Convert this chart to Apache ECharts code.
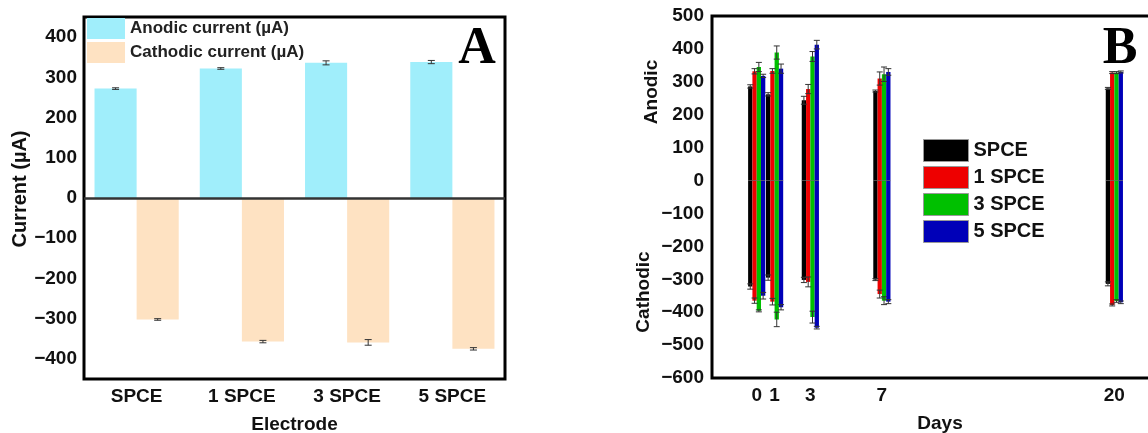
<!DOCTYPE html>
<html>
<head>
<meta charset="utf-8">
<script src="https://cdn.jsdelivr.net/npm/echarts@6/dist/echarts.min.js"></script>
<style>
html, body { margin: 0; padding: 0; background: #fff; overflow: hidden; }
#chart { width: 1180px; height: 433px; }
</style>
</head>
<body>
<div id="chart"></div>
<script>
// panel A
var electrodes = ['SPCE', '1 SPCE', '3 SPCE', '5 SPCE'];
var anodicA = [272, 322, 336, 338];
var anodicErrA = [2, 2, 5, 4];
var cathodicA = [-302, -357, -359, -375];
var cathodicErrA = [2, 3, 7, 3];

// panel B
var days = [0, 1, 3, 7, 20];
var anodicSPCE = [286, 262, 244, 272, 280];
var anodic1SPCE = [332, 333, 278, 310, 328];
var anodic3SPCE = [345, 389, 377, 323, 328];
var anodic5SPCE = [318, 340, 413, 330, 330];
var anodicErrSPCE = [5, 5, 12, 3, 3];
var anodicErr1SPCE = [8, 7, 14, 20, 3];
var anodicErr3SPCE = [14, 20, 15, 22, 3];
var anodicErr5SPCE = [5, 14, 13, 10, 3];
var cathodicSPCE = [-322, -295, -302, -301, -314];
var cathodic1SPCE = [-365, -368, -308, -345, -378];
var cathodic3SPCE = [-396, -422, -415, -365, -366];
var cathodic5SPCE = [-350, -385, -447, -368, -370];
var cathodicErrSPCE = [8, 8, 8, 3, 6];
var cathodicErr1SPCE = [8, 10, 15, 12, 3];
var cathodicErr3SPCE = [3, 22, 18, 12, 4];
var cathodicErr5SPCE = [10, 8, 4, 6, 4];

var colorsB = ['#000000', '#ee0000', '#00c000', '#0000b8'];
var anodicB = [anodicSPCE, anodic1SPCE, anodic3SPCE, anodic5SPCE];
var anodicErrB = [anodicErrSPCE, anodicErr1SPCE, anodicErr3SPCE, anodicErr5SPCE];
var cathodicB = [cathodicSPCE, cathodic1SPCE, cathodic3SPCE, cathodic5SPCE];
var cathodicErrB = [cathodicErrSPCE, cathodicErr1SPCE, cathodicErr3SPCE, cathodicErr5SPCE];

var FONT = 'Liberation Sans, Arial, sans-serif';
var barW = 4.3;

function minus(v) { return String(v).replace('-', '\u2212'); }

function errShape(x, yt, yb, w) {
  var st = { stroke: '#333', lineWidth: 1 };
  return [
    { type: 'line', shape: { x1: x, y1: yt, x2: x, y2: yb }, style: st },
    { type: 'line', shape: { x1: x - w, y1: yt, x2: x + w, y2: yt }, style: st },
    { type: 'line', shape: { x1: x - w, y1: yb, x2: x + w, y2: yb }, style: st }
  ];
}

// error bars for panel A: [catIndex, value, err, side]
function renderErrA(params, api) {
  var i = api.value(0), v = api.value(1), e = api.value(2), side = api.value(3);
  var band = api.size([1, 0])[0];
  var x = api.coord([i, v])[0] + side * band * 0.2;
  var yt = api.coord([i, v + e])[1];
  var yb = api.coord([i, v - e])[1];
  return { type: 'group', children: errShape(x, yt, yb, 3.5) };
}

// bars for panel B: [day, anodic, cathodic, k]
function renderBarB(params, api) {
  var d = api.value(0), up = api.value(1), dn = api.value(2), k = api.value(3);
  var base = api.coord([d, 0]);
  var x = base[0] + (k - 1.5) * barW - barW / 2;
  var yu = api.coord([d, up])[1];
  var yd = api.coord([d, dn])[1];
  var c = api.visual('color');
  return {
    type: 'group',
    children: [
      { type: 'rect', shape: { x: x, y: yu, width: barW, height: base[1] - yu }, style: { fill: c } },
      { type: 'rect', shape: { x: x, y: base[1], width: barW, height: yd - base[1] }, style: { fill: c } },
      { type: 'line', shape: { x1: x, y1: base[1], x2: x + barW, y2: base[1] }, style: { stroke: '#555', lineWidth: 0.6 } }
    ]
  };
}

// error bars for panel B: [day, value, err, k]
function renderErrB(params, api) {
  var d = api.value(0), v = api.value(1), e = api.value(2), k = api.value(3);
  var x = api.coord([d, 0])[0] + (k - 1.5) * barW;
  var yt = api.coord([d, v + e])[1];
  var yb = api.coord([d, v - e])[1];
  return { type: 'group', children: errShape(x, yt, yb, 3) };
}

var errDataA = [];
anodicA.forEach(function (v, i) { errDataA.push([i, v, anodicErrA[i], -1]); });
cathodicA.forEach(function (v, i) { errDataA.push([i, v, cathodicErrA[i], 1]); });

var errDataB = [];
var seriesB = electrodes.map(function (name, k) {
  var data = days.map(function (d, j) {
    errDataB.push([d, anodicB[k][j], anodicErrB[k][j], k]);
    errDataB.push([d, cathodicB[k][j], cathodicErrB[k][j], k]);
    return [d, anodicB[k][j], cathodicB[k][j], k];
  });
  return {
    name: name,
    type: 'custom',
    xAxisIndex: 1,
    yAxisIndex: 1,
    itemStyle: { color: colorsB[k] },
    renderItem: renderBarB,
    encode: { x: 0, y: [1, 2] },
    data: data,
    z: 2
  };
});

var tickStyle = { fontFamily: FONT, fontWeight: 'bold', fontSize: 19, color: '#111' };
var nameStyle = { fontFamily: FONT, fontWeight: 'bold', fontSize: 19, color: '#111' };

var chart = echarts.init(document.getElementById('chart'), null, { renderer: 'canvas' });

var option = {
  animation: false,
  backgroundColor: '#fff',
  grid: [
    { left: 84, top: 17, width: 421, height: 362, show: true, borderColor: '#000', borderWidth: 3,
      containLabel: false, outerBoundsMode: 'none' },
    { left: 712, top: 16, width: 456, height: 362, show: true, borderColor: '#000', borderWidth: 3,
      containLabel: false, outerBoundsMode: 'none' }
  ],
  legend: [
    {
      data: ['Anodic current (\u00b5A)', 'Cathodic current (\u00b5A)'],
      orient: 'vertical', left: 87, top: 18, padding: 0,
      itemWidth: 38, itemHeight: 21, itemGap: 3, icon: 'rect',
      textStyle: { fontFamily: FONT, fontWeight: 'bold', fontSize: 17, color: '#222' }
    },
    {
      data: electrodes,
      orient: 'vertical', left: 923, top: 139, padding: 0,
      itemWidth: 45, itemHeight: 22, itemGap: 4, icon: 'rect',
      itemStyle: { borderColor: '#999', borderWidth: 1 },
      textStyle: { fontFamily: FONT, fontWeight: 'bold', fontSize: 20, color: '#111' }
    }
  ],
  xAxis: [
    {
      gridIndex: 0, type: 'category', data: electrodes,
      axisLine: { show: false, onZero: false }, axisTick: { show: false },
      axisLabel: Object.assign({ margin: 8 }, tickStyle),
      name: 'Electrode', nameLocation: 'middle', nameGap: 36, nameTextStyle: nameStyle
    },
    {
      gridIndex: 1, type: 'value', min: -2.5, max: 23, interval: 0.5,
      splitLine: { show: false },
      axisLine: { show: false, onZero: false }, axisTick: { show: false },
      axisLabel: Object.assign({
        margin: 8,
        formatter: function (v) { return days.indexOf(v) >= 0 ? String(v) : ''; }
      }, tickStyle),
      name: 'Days', nameLocation: 'middle', nameGap: 36, nameTextStyle: nameStyle
    }
  ],
  yAxis: [
    {
      gridIndex: 0, type: 'value', min: -450, max: 450, interval: 50,
      splitLine: { show: false }, axisLine: { show: false }, axisTick: { show: false },
      axisLabel: Object.assign({
        margin: 7,
        formatter: function (v) { return v % 100 === 0 ? minus(v) : ''; }
      }, tickStyle)
    },
    {
      gridIndex: 1, type: 'value', min: -600, max: 500, interval: 100,
      splitLine: { show: false }, axisLine: { show: false }, axisTick: { show: false },
      axisLabel: Object.assign({ margin: 8, formatter: minus }, tickStyle)
    }
  ],
  graphic: [
    { type: 'text', x: 20, y: 189, rotation: Math.PI / 2,
      style: { text: 'Current (\u00b5A)', font: 'bold 20px ' + FONT, fill: '#111', align: 'center', verticalAlign: 'middle' } },
    { type: 'text', x: 652, y: 92, rotation: Math.PI / 2,
      style: { text: 'Anodic', font: 'bold 19px ' + FONT, fill: '#111', align: 'center', verticalAlign: 'middle' } },
    { type: 'text', x: 644, y: 292, rotation: Math.PI / 2,
      style: { text: 'Cathodic', font: 'bold 19px ' + FONT, fill: '#111', align: 'center', verticalAlign: 'middle' } },
    { type: 'text', x: 477, y: 50,
      style: { text: 'A', font: 'bold 52px Liberation Serif, Times New Roman, serif', fill: '#000', align: 'center', verticalAlign: 'middle' } },
    { type: 'text', x: 1120, y: 50,
      style: { text: 'B', font: 'bold 52px Liberation Serif, Times New Roman, serif', fill: '#000', align: 'center', verticalAlign: 'middle' } }
  ],
  series: [
    {
      name: 'Anodic current (\u00b5A)', type: 'bar', xAxisIndex: 0, yAxisIndex: 0,
      data: anodicA, barGap: '0%', barCategoryGap: '20%',
      itemStyle: { color: '#a0eefb' },
      markLine: {
        silent: true, symbol: ['none', 'none'], label: { show: false },
        lineStyle: { color: '#333', width: 2.5, type: 'solid' },
        data: [{ yAxis: 0 }]
      }
    },
    {
      name: 'Cathodic current (\u00b5A)', type: 'bar', xAxisIndex: 0, yAxisIndex: 0,
      data: cathodicA, barGap: '0%', barCategoryGap: '20%',
      itemStyle: { color: '#fee2c2' }
    },
    {
      type: 'custom', xAxisIndex: 0, yAxisIndex: 0,
      renderItem: renderErrA, data: errDataA, z: 5, silent: true
    }
  ].concat(seriesB).concat([
    {
      type: 'custom', xAxisIndex: 1, yAxisIndex: 1,
      renderItem: renderErrB, encode: { x: 0, y: 1 }, data: errDataB, z: 5, silent: true
    }
  ])
};

chart.setOption(option);
</script>
</body>
</html>
